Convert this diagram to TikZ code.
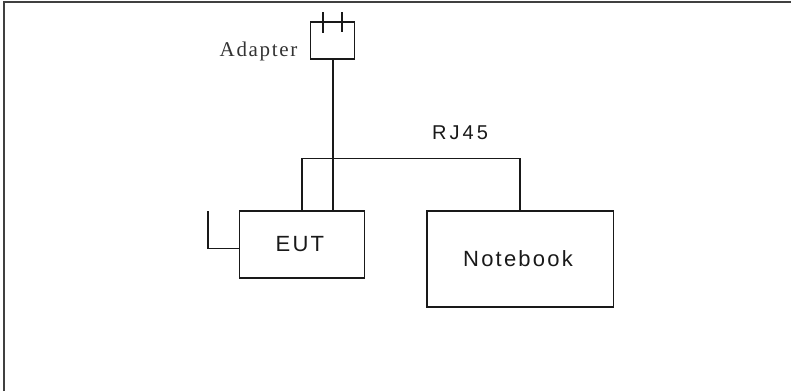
\documentclass[tikz,border=0pt]{standalone}
\usepackage{fontspec}
\setmainfont{Liberation Sans}
\newfontfamily\serifface{Liberation Serif}
\tikzset{
  wire/.style={draw=black!90,line width=1.6pt,line cap=butt,line join=miter},
  boxnode/.style={wire,fill=white,minimum width=0pt,minimum height=0pt,inner sep=0pt},
  sanslabel/.style={font=\fontsize{22}{24}\selectfont\addfontfeatures{LetterSpace=10},text=black!90,inner sep=0pt},
  rjlabel/.style={font=\fontsize{20}{24}\selectfont\addfontfeatures{LetterSpace=15},text=black!90,inner sep=0pt},
  seriflabel/.style={font=\serifface\fontsize{21}{24}\selectfont\addfontfeatures{LetterSpace=8},text=black!80,inner sep=0pt}
}
\begin{document}
\begin{tikzpicture}[x=1pt,y=-1pt]
\useasboundingbox (0,0) rectangle (791,391);
\draw[line width=2pt,draw=black!75] (4,391) -- (4,1.5) -- (791,1.5);
% adapter
\node[boxnode,minimum width=44pt,minimum height=37pt] (adapter) at (332.5,40.5) {};
\coordinate (p1t) at (323,12);\coordinate (p1b) at (323,33);
\coordinate (p2t) at (342,12);\coordinate (p2b) at (342,32);
\draw[wire] (p1t) -- (p1b);
\draw[wire] (p2t) -- (p2b);
\node[seriflabel,anchor=base west] (adapterlabel) at (219.5,56) {Adapter};
% boxes
\node[boxnode,minimum width=125pt,minimum height=67pt] (eut) at (302,244.5) {};
\node[sanslabel,anchor=base west] (euttext) at (275.5,251) {EUT};
\node[boxnode,minimum width=186.5pt,minimum height=96pt] (notebook) at (520.25,259) {};
\node[sanslabel,anchor=base west] (notebooktext) at (463,266) {Notebook};
\node[rjlabel,anchor=base west] (rj) at (432,139) {RJ45};
% connectors
\coordinate (busL) at (302,158.5);
\coordinate (busR) at (520,158.5);
\coordinate (stubT) at (208,211);
\coordinate (stubC) at (208,248.5);
\draw[wire] (302,211) -- (busL) -- (busR) -- (520,211);
\draw[wire] (333,59) -- (333,211);
\draw[wire] (stubT) -- (stubC) -- (239.5,248.5);
\end{tikzpicture}
\end{document}
